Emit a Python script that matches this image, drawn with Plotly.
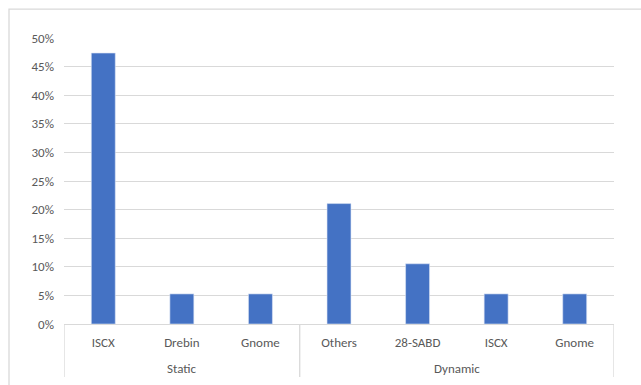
import plotly.graph_objects as go

# Share of studies per dataset, grouped by analysis type
groups = ["Static", "Dynamic"]
group_sizes = [3, 4]
datasets = ["ISCX", "Drebin", "Gnome", "Others", "28-SABD", "ISCX", "Gnome"]
shares = [0.4737, 0.0526, 0.0526, 0.2105, 0.1053, 0.0526, 0.0526]
y_ticks = [0, 0.05, 0.10, 0.15, 0.20, 0.25, 0.30, 0.35, 0.40, 0.45, 0.50]

bar_color = "#4472C4"
grid_color = "#D9D9D9"
text_color = "#595959"
font_family = "Carlito, Lato, 'Open Sans', sans-serif"
font_size = 13

positions = list(range(len(datasets)))

fig = go.Figure(
    go.Bar(
        x=positions,
        y=shares,
        width=0.305,
        marker=dict(color=bar_color, line=dict(color="#DCE4F5", width=0.6)),
    )
)

# group labels and group dividers under the category axis
shapes = []
annotations = []
start = 0
bounds = [-0.5]
for name, size in zip(groups, group_sizes):
    center = start + (size - 1) / 2
    annotations.append(dict(
        x=center, xref="x", y=-0.154, yref="paper",
        text=name, showarrow=False, xanchor="center", yanchor="middle",
        font=dict(family=font_family, size=font_size, color=text_color),
    ))
    start += size
    bounds.append(start - 0.5)

for b in bounds:
    shapes.append(dict(
        type="line", xref="x", yref="paper",
        x0=b, x1=b, y0=0, y1=-0.185,
        line=dict(color=grid_color, width=1.3),
    ))

# chart-area frame (top and left edges visible)
shapes.append(dict(
    type="rect", xref="paper", yref="paper",
    x0=-0.1, x1=1.2, y0=-0.3, y1=1.101,
    line=dict(color=grid_color, width=1.3),
    fillcolor="rgba(0,0,0,0)", layer="below",
))

fig.update_layout(
    width=641,
    height=385,
    margin=dict(l=64, r=27, t=38, b=61),
    paper_bgcolor="white",
    plot_bgcolor="white",
    showlegend=False,
    font=dict(family=font_family, size=font_size, color=text_color),
    xaxis=dict(
        range=[-0.5, len(datasets) - 0.5],
        tickvals=positions,
        ticktext=datasets,
        showline=True,
        linecolor=grid_color,
        linewidth=1.3,
        showgrid=False,
        zeroline=False,
        ticks="",
        ticklabelstandoff=6,
        tickfont=dict(family=font_family, size=font_size, color=text_color),
    ),
    yaxis=dict(
        range=[0, 0.5],
        tickvals=y_ticks,
        tickformat=".0%",
        showgrid=True,
        gridcolor=grid_color,
        gridwidth=1.3,
        zeroline=False,
        showline=False,
        ticks="",
        ticklabelstandoff=9,
        tickfont=dict(family=font_family, size=font_size, color=text_color),
    ),
    shapes=shapes,
    annotations=annotations,
)

fig.write_html("out.html")
